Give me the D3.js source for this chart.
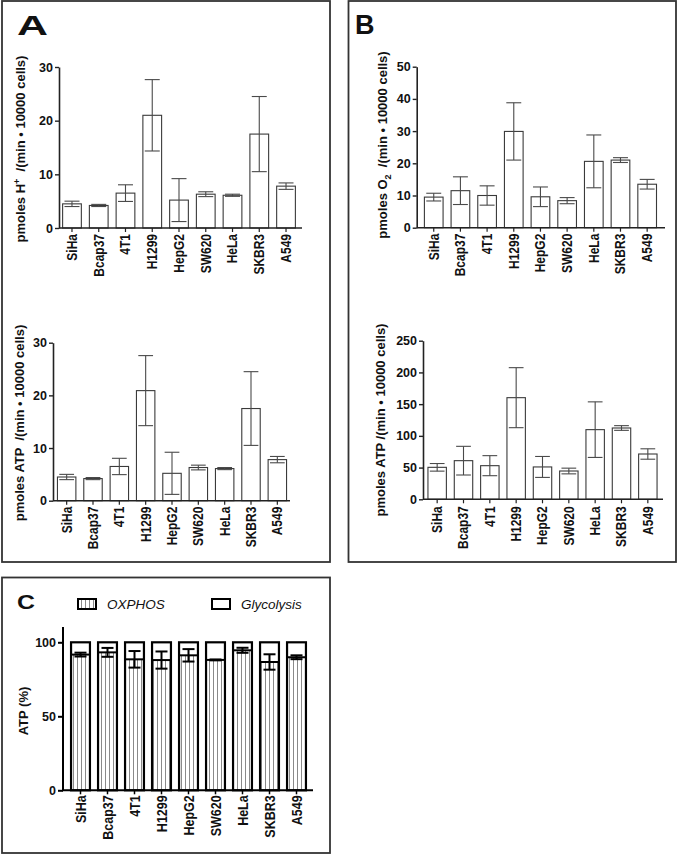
<!DOCTYPE html>
<html>
<head>
<meta charset="utf-8">
<script src="https://cdn.jsdelivr.net/npm/d3@7"></script>
<style>
  html, body { margin: 0; padding: 0; background: #fff; }
  svg { display: block; font-family: "Liberation Sans", Arial, sans-serif; }
</style>
</head>
<body>
<svg id="chart" width="680" height="856"></svg>
<script>
// ---------------- data ----------------
const categories = ["SiHa", "Bcap37", "4T1", "H1299", "HepG2", "SW620", "HeLa", "SKBR3", "A549"];

// A (top): proton efflux rate, pmoles H+ /(min · 10000 cells)
const protonMean = [4.5, 4.2, 6.5, 21.0, 5.2, 6.3, 6.1, 17.5, 7.8];
const protonSem  = [0.5, 0.2, 1.55, 6.65, 4.0, 0.45, 0.2, 7.0, 0.6];
const protonTicks = [0, 10, 20, 30];

// A (bottom): glycolytic ATP, pmoles ATP /(min · 10000 cells)
const glycoAtpMean = [4.5, 4.2, 6.5, 20.9, 5.2, 6.3, 6.1, 17.5, 7.8];
const glycoAtpSem  = [0.5, 0.2, 1.55, 6.65, 4.0, 0.45, 0.2, 7.0, 0.6];
const glycoAtpTicks = [0, 10, 20, 30];

// B (top): oxygen consumption, pmoles O2 /(min · 10000 cells)
const ocrMean = [9.5, 11.5, 10.0, 29.9, 9.6, 8.4, 20.6, 21.0, 13.5];
const ocrSem  = [1.2, 4.3, 3.0, 8.9, 3.05, 0.95, 8.2, 0.75, 1.5];
const ocrTicks = [0, 10, 20, 30, 40, 50];

// B (bottom): oxidative ATP, pmoles ATP /(min · 10000 cells)
const oxAtpMean = [50.4, 60.9, 53.0, 160.2, 51.0, 44.6, 109.8, 112.4, 71.4];
const oxAtpSem  = [6.0, 22.6, 15.8, 47.3, 16.5, 4.5, 43.8, 3.7, 8.2];
const oxAtpTicks = [0, 50, 100, 150, 200, 250];

// C: ATP share (%), OXPHOS vs Glycolysis
const oxphosPct = [91.7, 93.2, 88.5, 88.0, 91.2, 88.1, 94.6, 86.7, 89.9];
const oxphosSem = [1.3, 3.0, 5.6, 5.8, 4.2, 0.3, 1.7, 5.2, 1.3];
const pctTicks = [0, 50, 100];
const legendLabels = ["OXPHOS", "Glycolysis"];

// ---------------- drawing ----------------
const svg = d3.select("#chart");
const FONT = "'Liberation Sans', Arial, sans-serif";

const defs = svg.append("defs");
const pat = defs.append("pattern")
  .attr("id", "stripes").attr("patternUnits", "userSpaceOnUse")
  .attr("width", 4).attr("height", 8);
pat.append("rect").attr("width", 4).attr("height", 8).attr("fill", "#fff");
pat.append("line").attr("x1", 1.5).attr("x2", 1.5).attr("y1", 0).attr("y2", 8)
  .attr("stroke", "#8a8a8a").attr("stroke-width", 1);

// panel frames
const frames = [
  {x: 2, y: 1, w: 328, h: 561},
  {x: 348.5, y: 1, w: 327.5, h: 561},
  {x: 2, y: 577.5, w: 328, h: 275.5}
];
svg.selectAll("rect.frame").data(frames).join("rect")
  .attr("class", "frame")
  .attr("x", d => d.x).attr("y", d => d.y).attr("width", d => d.w).attr("height", d => d.h)
  .attr("fill", "none").attr("stroke", "#333").attr("stroke-width", 1.8);

// panel letters
function letter(t, x, y, size, len) {
  const el = svg.append("text").attr("x", x).attr("y", y).text(t)
    .attr("font-family", "'Liberation Sans', Arial, sans-serif")
    .attr("font-weight", "bold").attr("font-size", size).attr("fill", "#111");
  if (len) el.attr("textLength", len).attr("lengthAdjust", "spacingAndGlyphs");
}
letter("A", 17, 35, 28, 31);
letter("B", 355, 34, 27, null);
letter("C", 17, 609, 20, 18);

function yTitle(g, x, cy, parts) {
  const t = g.append("text")
    .attr("transform", `translate(${x},${cy}) rotate(-90)`)
    .attr("text-anchor", "middle")
    .attr("font-family", FONT).attr("font-weight", "bold").attr("font-size", 13)
    .attr("fill", "#111");
  parts.forEach(p => {
    const s = t.append("tspan").text(p.t);
    if (p.sup) s.attr("dy", -5).attr("font-size", 9);
    if (p.sub) s.attr("dy", 4).attr("font-size", 9);
    if (p.back) s.attr("dy", p.back);
  });
  t.attr("xml:space", "preserve").style("white-space", "pre");
}

function barChart(cfg) {
  const g = svg.append("g");
  const x = d3.scaleBand().domain(categories).range(cfg.band).paddingInner(0.3).paddingOuter(0.15);
  const y = d3.scaleLinear().domain([0, cfg.ymax]).range([cfg.y0, cfg.yTop]);
  const bw = x.bandwidth();

  // bars
  g.selectAll("rect.bar").data(categories).join("rect")
    .attr("x", d => x(d)).attr("width", bw)
    .attr("y", (d, i) => y(cfg.mean[i]))
    .attr("height", (d, i) => y(0) - y(cfg.mean[i]))
    .attr("fill", "#fff").attr("stroke", "#3a3a3a").attr("stroke-width", 1.1);

  // error bars
  const cap = bw * 0.8;
  const eg = g.selectAll("g.err").data(categories).join("g")
    .attr("stroke", "#4a4a4a").attr("stroke-width", 1.1).attr("fill", "none");
  eg.append("line")
    .attr("x1", d => x(d) + bw / 2).attr("x2", d => x(d) + bw / 2)
    .attr("y1", (d, i) => y(cfg.mean[i] + cfg.sem[i]))
    .attr("y2", (d, i) => y(cfg.mean[i] - cfg.sem[i]));
  eg.append("line")
    .attr("x1", d => x(d) + bw / 2 - cap / 2).attr("x2", d => x(d) + bw / 2 + cap / 2)
    .attr("y1", (d, i) => y(cfg.mean[i] + cfg.sem[i]))
    .attr("y2", (d, i) => y(cfg.mean[i] + cfg.sem[i]));
  eg.append("line")
    .attr("x1", d => x(d) + bw / 2 - cap / 2).attr("x2", d => x(d) + bw / 2 + cap / 2)
    .attr("y1", (d, i) => y(cfg.mean[i] - cfg.sem[i]))
    .attr("y2", (d, i) => y(cfg.mean[i] - cfg.sem[i]));

  // y axis
  const ya = g.append("g").attr("transform", `translate(${cfg.axisX},0)`)
    .call(d3.axisLeft(y).tickValues(cfg.ticks).tickSize(4).tickPadding(2).tickSizeOuter(0));
  ya.select(".domain").attr("stroke", "#222").attr("stroke-width", 1.6);
  ya.selectAll(".tick line").attr("stroke", "#222").attr("stroke-width", 1.4);
  ya.selectAll(".tick text").attr("font-family", FONT).attr("font-weight", "bold")
    .attr("font-size", 12.5).attr("fill", "#111");

  // x axis
  const xa = g.append("g").attr("transform", `translate(0,${cfg.y0})`)
    .call(d3.axisBottom(x).tickSize(4).tickSizeOuter(0));
  xa.select(".domain").remove();
  xa.append("line").attr("x1", cfg.axisX).attr("x2", cfg.axisEnd).attr("y1", 0).attr("y2", 0)
    .attr("stroke", "#222").attr("stroke-width", 1.6);
  xa.selectAll(".tick line").attr("stroke", "#222").attr("stroke-width", 1.2);
  xa.selectAll(".tick text")
    .attr("transform", "rotate(-90) scale(1,1.18)").attr("text-anchor", "end")
    .attr("x", -cfg.labelOff).attr("y", 0).attr("dy", "0.35em")
    .attr("font-family", FONT).attr("font-weight", "bold").attr("font-size", 12).attr("fill", "#111");

  yTitle(g, cfg.titleX, cfg.titleY, cfg.title);
}

barChart({
  mean: protonMean, sem: protonSem, ticks: protonTicks, ymax: 30,
  band: [58.6, 299.4], axisX: 59, axisEnd: 302, y0: 228, yTop: 67, labelOff: 6,
  titleX: 25, titleY: 149,
  title: [{t: "pmoles H"}, {t: "+", sup: true}, {t: "  /(min • 10000 cells)", back: 5}]
});
barChart({
  mean: glycoAtpMean, sem: glycoAtpSem, ticks: glycoAtpTicks, ymax: 30,
  band: [53.5, 290.5], axisX: 53, axisEnd: 290, y0: 500.7, yTop: 342.7, labelOff: 6,
  titleX: 24, titleY: 423,
  title: [{t: "pmoles ATP  /(min • 10000 cells)"}]
});
barChart({
  mean: ocrMean, sem: ocrSem, ticks: ocrTicks, ymax: 50,
  band: [420.4, 660.5], axisX: 416.7, axisEnd: 665, y0: 227.7, yTop: 66.7, labelOff: 6,
  titleX: 387, titleY: 145,
  title: [{t: "pmoles O"}, {t: "2", sub: true}, {t: "  /(min • 10000 cells)", back: -4}]
});
barChart({
  mean: oxAtpMean, sem: oxAtpSem, ticks: oxAtpTicks, ymax: 250,
  band: [424, 661], axisX: 423, axisEnd: 663, y0: 499.3, yTop: 340.7, labelOff: 7,
  titleX: 385, titleY: 420,
  title: [{t: "pmoles ATP /(min • 10000 cells)"}]
});

// ---------------- panel C ----------------
(function () {
  const g = svg.append("g");
  const x = d3.scaleBand().domain(categories).range([67, 310]).paddingInner(0.3).paddingOuter(0.15);
  const y = d3.scaleLinear().domain([0, 100]).range([790.3, 642.3]);
  const bw = x.bandwidth();
  const yTopAxis = 627;

  const bars = g.selectAll("g.bar").data(categories).join("g");
  bars.append("rect")
    .attr("x", d => x(d)).attr("width", bw)
    .attr("y", y(100)).attr("height", y(0) - y(100)).attr("fill", "#fff");
  bars.append("rect")
    .attr("x", d => x(d)).attr("width", bw)
    .attr("y", (d, i) => y(oxphosPct[i])).attr("height", (d, i) => y(0) - y(oxphosPct[i]))
    .attr("fill", "url(#stripes)");
  bars.append("line")
    .attr("x1", d => x(d)).attr("x2", d => x(d) + bw)
    .attr("y1", (d, i) => y(oxphosPct[i])).attr("y2", (d, i) => y(oxphosPct[i]))
    .attr("stroke", "#000").attr("stroke-width", 2);
  bars.append("rect")
    .attr("x", d => x(d)).attr("width", bw)
    .attr("y", y(100)).attr("height", y(0) - y(100))
    .attr("fill", "none").attr("stroke", "#000").attr("stroke-width", 2.2);

  const cap = 12;
  const eg = bars.append("g").attr("stroke", "#000").attr("stroke-width", 2);
  eg.append("line")
    .attr("x1", d => x(d) + bw / 2).attr("x2", d => x(d) + bw / 2)
    .attr("y1", (d, i) => y(oxphosPct[i] + oxphosSem[i])).attr("y2", (d, i) => y(oxphosPct[i] - oxphosSem[i]));
  [1, -1].forEach(s => {
    eg.append("line")
      .attr("x1", d => x(d) + bw / 2 - cap / 2).attr("x2", d => x(d) + bw / 2 + cap / 2)
      .attr("y1", (d, i) => y(oxphosPct[i] + s * oxphosSem[i]))
      .attr("y2", (d, i) => y(oxphosPct[i] + s * oxphosSem[i]));
  });

  // axes
  const ya = g.append("g").attr("transform", "translate(63,0)")
    .call(d3.axisLeft(y).tickValues(pctTicks).tickSize(5).tickPadding(2).tickSizeOuter(0));
  ya.select(".domain").remove();
  ya.append("line").attr("x1", 0).attr("x2", 0).attr("y1", y(0)).attr("y2", yTopAxis)
    .attr("stroke", "#000").attr("stroke-width", 2);
  ya.selectAll(".tick line").attr("stroke", "#000").attr("stroke-width", 2);
  ya.selectAll(".tick text").attr("font-family", FONT).attr("font-weight", "bold")
    .attr("font-size", 12.5).attr("fill", "#111");

  const xa = g.append("g").attr("transform", `translate(0,${y(0)})`)
    .call(d3.axisBottom(x).tickSize(4).tickSizeOuter(0));
  xa.select(".domain").remove();
  xa.append("line").attr("x1", 62).attr("x2", 313).attr("y1", 0).attr("y2", 0)
    .attr("stroke", "#000").attr("stroke-width", 2);
  xa.selectAll(".tick line").attr("stroke", "#000").attr("stroke-width", 1.5);
  xa.selectAll(".tick text")
    .attr("transform", "rotate(-90) scale(1,1.15)").attr("text-anchor", "end")
    .attr("x", -5).attr("y", 0).attr("dy", "0.35em")
    .attr("font-family", FONT).attr("font-weight", "bold").attr("font-size", 12.5).attr("fill", "#111");

  yTitle(g, 28, 711, [{t: "ATP (%)"}]);

  // legend
  const leg = g.append("g");
  const items = [
    {label: legendLabels[0], bx: 78, tx: 107, fill: "url(#stripes)"},
    {label: legendLabels[1], bx: 212, tx: 241, fill: "#fff"}
  ];
  items.forEach(it => {
    leg.append("rect").attr("x", it.bx).attr("y", 599).attr("width", 18).attr("height", 10)
      .attr("fill", it.fill).attr("stroke", "#000").attr("stroke-width", 2);
    leg.append("text").attr("x", it.tx).attr("y", 609).text(it.label)
      .attr("font-family", FONT).attr("font-style", "italic").attr("font-size", 13.5).attr("fill", "#111");
  });
})();
</script>
</body>
</html>
